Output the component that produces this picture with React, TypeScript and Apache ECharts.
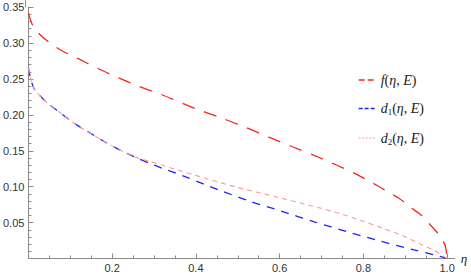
import React, { useEffect, useRef } from "react";
import * as echarts from "echarts";

const etaF = [0, 0.01, 0.029, 0.052, 0.081, 0.11, 0.137, 0.165, 0.196, 0.224, 0.252, 0.283, 0.315, 0.398, 0.455, 0.517, 0.574, 0.629, 0.693, 0.778, 0.807, 0.835, 0.861, 0.885, 0.913, 0.937, 0.958, 0.978, 0.99, 0.996, 1.0];
const fVals = [0.342, 0.325, 0.311, 0.3, 0.289, 0.281, 0.273, 0.265, 0.2565, 0.2495, 0.2425, 0.2355, 0.229, 0.209, 0.197, 0.183, 0.169, 0.156, 0.141, 0.119, 0.11, 0.101, 0.092, 0.084, 0.071, 0.061, 0.048, 0.035, 0.025, 0.017, 0.0];

const etaD1 = [0, 0.006, 0.015, 0.034, 0.046, 0.078, 0.11, 0.141, 0.181, 0.212, 0.252, 0.3, 0.374, 0.455, 0.533, 0.604, 0.683, 0.763, 0.842, 0.921, 0.97, 1.0];
const d1Vals = [0.265, 0.249, 0.235, 0.223, 0.216, 0.202, 0.188, 0.177, 0.163, 0.153, 0.142, 0.13, 0.114, 0.0954, 0.079, 0.066, 0.051, 0.037, 0.024, 0.012, 0.005, 0];

const etaD2 = [0, 0.006, 0.015, 0.034, 0.046, 0.078, 0.11, 0.141, 0.181, 0.212, 0.252, 0.291, 0.398, 0.493, 0.604, 0.652, 0.699, 0.747, 0.794, 0.842, 0.889, 0.937, 0.97, 1.0];
const d2Vals = [0.265, 0.249, 0.235, 0.223, 0.216, 0.202, 0.188, 0.177, 0.163, 0.153, 0.142, 0.135, 0.116, 0.1, 0.084, 0.077, 0.07, 0.062, 0.053, 0.043, 0.033, 0.02, 0.011, 0];

const seriesNames = ["f", "d1", "d2"];
const xTickLabels = ["0.2", "0.4", "0.6", "0.8", "1.0"];

const zip = (xs: number[], ys: number[]) => xs.map((x, i) => [x, ys[i]]);

const legendText: Record<string, string> = {
  f: "{i|f}{r|(}{i|η}{r|, }{i|E}{r|)}",
  d1: "{i|d}{s|1}{r|(}{i|η}{r|, }{i|E}{r|)}",
  d2: "{i|d}{s|2}{r|(}{i|η}{r|, }{i|E}{r|)}",
};

export default function App() {
  const ref = useRef<HTMLDivElement>(null);
  useEffect(() => {
    if (!ref.current) return;
    const chart = echarts.init(ref.current, null, { renderer: "svg" });
    const axisColor = "#8a8a8a";
    const labelColor = "#333";
    const serif = "'Liberation Serif', 'DejaVu Serif', serif";
    const hidden = { color: "rgba(0,0,0,0)", borderColor: "rgba(0,0,0,0)", borderWidth: 0, opacity: 0 };
    chart.setOption({
      animation: false,
      backgroundColor: "#fff",
      grid: { left: 25.6, right: 23.9, top: 7.2, bottom: 16.5, containLabel: false },
      xAxis: {
        type: "value",
        min: 0,
        max: 1,
        interval: 0.2,
        name: "η",
        nameLocation: "end",
        nameGap: 12,
        nameTextStyle: { fontFamily: serif, fontStyle: "italic", fontSize: 13, color: "#222", verticalAlign: "middle", padding: [0, 0, 4, 0] },
        axisLine: { show: true, onZero: false, lineStyle: { color: axisColor, width: 1 } },
        axisTick: { show: true, inside: true, length: 5, lineStyle: { color: axisColor } },
        minorTick: { show: true, splitNumber: 4, length: 3, lineStyle: { color: axisColor } },
        axisLabel: {
          margin: 4,
          fontSize: 11,
          fontFamily: "'Liberation Sans', Arial, sans-serif",
          color: labelColor,
          formatter: (v: number) => {
            const s = v.toFixed(1);
            return xTickLabels.includes(s) ? s : "";
          },
        },
        splitLine: { show: false },
      },
      yAxis: {
        type: "value",
        min: 0,
        max: 0.35,
        interval: 0.05,
        axisLine: { show: true, onZero: false, lineStyle: { color: axisColor, width: 1 } },
        axisTick: { show: true, inside: true, length: 5, lineStyle: { color: axisColor } },
        minorTick: { show: true, splitNumber: 5, length: 3, lineStyle: { color: axisColor } },
        axisLabel: {
          margin: 4,
          fontSize: 11,
          fontFamily: "'Liberation Sans', Arial, sans-serif",
          color: labelColor,
          formatter: (v: number) => (v === 0 ? "" : v.toFixed(2)),
        },
        splitLine: { show: false },
      },
      legend: {
        orient: "vertical",
        left: 353,
        top: 68,
        itemWidth: 17,
        itemHeight: 10,
        itemGap: 14.5,
        data: [
          { name: "f", lineStyle: { type: [6, 3], width: 1.3 }, itemStyle: hidden },
          { name: "d1", lineStyle: { type: [4, 2], width: 1.3 }, itemStyle: hidden },
          { name: "d2", lineStyle: { type: [2, 1.5], width: 1 }, itemStyle: hidden },
        ],
        formatter: (name: string) => legendText[name],
        textStyle: {
          rich: {
            i: { fontFamily: serif, fontStyle: "italic", fontSize: 14, color: "#222", lineHeight: 16 },
            r: { fontFamily: serif, fontSize: 14, color: "#222", lineHeight: 16 },
            s: { fontFamily: serif, fontSize: 9, color: "#222", lineHeight: 16, verticalAlign: "bottom" },
          },
        },
      },
      graphic: [
        { type: "line", shape: { x1: 447, y1: 258.5, x2: 455, y2: 258.5 }, style: { stroke: axisColor, lineWidth: 1 } },
        { type: "line", shape: { x1: 25.6, y1: 0, x2: 25.6, y2: 7.2 }, style: { stroke: axisColor, lineWidth: 1 } },
      ],
      series: [
        {
          name: seriesNames[0],
          type: "line",
          data: zip(etaF, fVals),
          symbol: "none",
          smooth: 0.3,
          lineStyle: { color: "#ff2020", width: 1.3, type: [13, 10] },
          itemStyle: { color: "#ff2020" },
        },
        {
          name: seriesNames[1],
          type: "line",
          data: zip(etaD1, d1Vals),
          symbol: "none",
          smooth: 0.3,
          lineStyle: { color: "#2020ff", width: 1.3, type: [8, 7] },
          itemStyle: { color: "#2020ff" },
        },
        {
          name: seriesNames[2],
          type: "line",
          data: zip(etaD2, d2Vals),
          symbol: "none",
          smooth: 0.3,
          lineStyle: { color: "#ff9a9a", width: 1.1, type: [5, 4] },
          itemStyle: { color: "#ff9a9a" },
        },
      ],
    });
    return () => chart.dispose();
  }, []);
  return (
    <div
      ref={ref}
      style={{ position: "fixed", left: 0, top: 0, width: 471, height: 275, background: "#fff" }}
    />
  );
}
